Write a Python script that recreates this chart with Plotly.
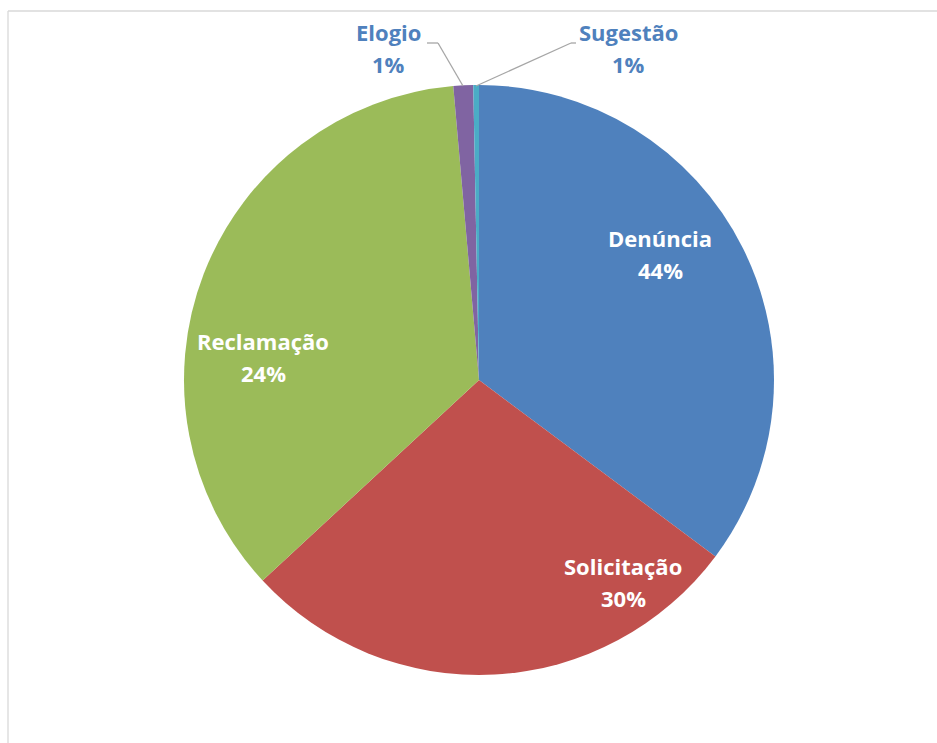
import plotly.graph_objects as go

# Data
categories = ["Denúncia", "Solicitação", "Reclamação", "Elogio", "Sugestão"]
slice_values = [35.2, 27.9, 35.5, 1.08, 0.31]   # visual proportions of slices
label_percents = ["44%", "30%", "24%", "1%", "1%"]  # percentages as printed on chart
colors = ["#4F81BD", "#C0504D", "#9BBB59", "#8064A2", "#4BACC6"]

W, H = 937, 743
cx, cy, r = 479, 380, 295

fig = go.Figure(go.Pie(
    labels=categories,
    values=slice_values,
    sort=False,
    direction="clockwise",
    rotation=0,
    marker=dict(colors=colors, line=dict(width=0)),
    textinfo="none",
    hoverinfo="label+percent",
    domain=dict(x=[(cx - r) / W, (cx + r) / W], y=[(H - cy - r) / H, (H - cy + r) / H]),
    showlegend=False,
))

# label positions (pixels from top-left), inside labels white, outside blue
label_pos = [(660, 238), (623, 566), (263, 341), (388, 32), (628, 32)]
label_colors = ["white", "white", "white", "#4F81BD", "#4F81BD"]
line_gap = 32

anns = []
for name, pct, (x, y), col in zip(categories, label_percents, label_pos, label_colors):
    for i, t in enumerate([name, pct]):
        anns.append(dict(
            x=x / W, y=1 - (y + i * line_gap) / H, xref="paper", yref="paper",
            text="<b>%s</b>" % t, showarrow=False, xanchor="center", yanchor="middle",
            font=dict(family="Open Sans", size=22, color=col),
        ))

def px(x, y):
    return x / W, 1 - y / H

shapes = []
# chart frame (partially visible)
for (x0, y0, x1, y1) in [(8, 11, 937, 11), (8, 11, 8, 743)]:
    a, b = px(x0, y0); c, d = px(x1, y1)
    shapes.append(dict(type="line", xref="paper", yref="paper", x0=a, y0=b, x1=c, y1=d,
                       line=dict(color="#D9D9D9", width=1.3)))
# leader lines
leaders = [
    [(427, 43), (438, 43), (463, 86)],
    [(576, 43), (571, 43), (476, 86)],
]
for pts in leaders:
    for (p, q) in zip(pts[:-1], pts[1:]):
        a, b = px(*p); c, d = px(*q)
        shapes.append(dict(type="line", xref="paper", yref="paper", x0=a, y0=b, x1=c, y1=d,
                           line=dict(color="#A6A6A6", width=1.3)))

fig.update_layout(
    width=W, height=H,
    margin=dict(l=0, r=0, t=0, b=0),
    paper_bgcolor="white", plot_bgcolor="white",
    annotations=anns, shapes=shapes,
)

fig.write_html("out.html", config={"displayModeBar": False},
               post_script="document.body.style.margin='0';document.body.style.overflow='hidden';")
